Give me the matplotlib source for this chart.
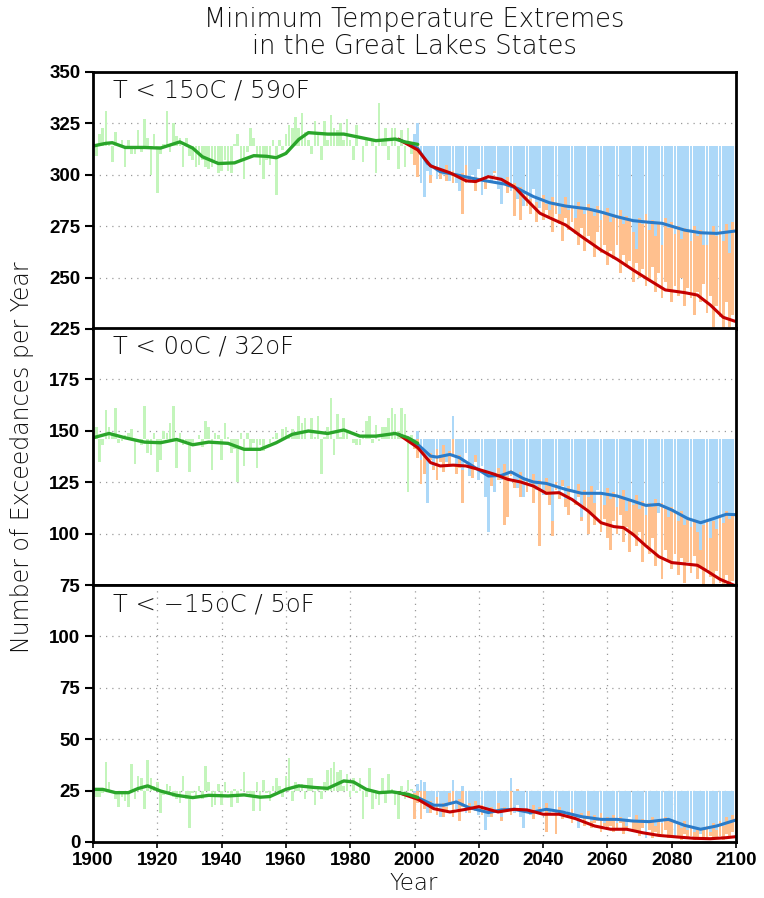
import matplotlib

matplotlib.use("Agg")
import matplotlib.pyplot as plt
import numpy as np

# ---- data ----
hist_years = list(range(1900, 2000))
future_years = list(range(2000, 2101))

panel_labels = ["T < 15oC / 59oF", "T < 0oC / 32oF", "T < \u221215oC / 5oF"]
baselines = [314, 146, 25]
ylims = [(225, 350), (75, 200), (0, 125)]
ytick_values = [[225, 250, 275, 300, 325, 350], [75, 100, 125, 150, 175], [0, 25, 50, 75, 100]]

p1_hist = [296, 309, 320, 323, 331, 316, 306, 321, 315, 317,
           304, 317, 310, 310, 322, 311, 327, 318, 300, 320,
           291, 310, 315, 331, 311, 325, 319, 318, 304, 318,
           309, 307, 304, 305, 307, 304, 303, 304, 307, 301,
           302, 307, 302, 301, 315, 320, 307, 298, 311, 323,
           318, 309, 305, 298, 307, 305, 317, 290, 317, 312,
           320, 324, 323, 328, 323, 330, 321, 317, 310, 326,
           321, 307, 326, 317, 329, 323, 322, 325, 317, 327,
           317, 307, 324, 314, 306, 317, 314, 317, 301, 335,
           317, 323, 307, 323, 323, 303, 322, 304, 323, 310]
p1_low = [320, 325, 296, 289, 302, 300, 304, 298, 303, 300,
          305, 297, 302, 296, 292, 301, 305, 296, 300, 299,
          303, 290, 298, 300, 296, 302, 293, 286, 297, 299,
          292, 296, 288, 294, 285, 291, 288, 293, 287, 284,
          290, 286, 283, 289, 287, 281, 286, 289, 283, 285,
          279, 287, 284, 281, 286, 283, 280, 285, 278, 282,
          284, 277, 281, 279, 283, 276, 280, 278, 272, 264,
          279, 276, 281, 273, 278, 270, 277, 266, 279, 274,
          277, 271, 275, 269, 274, 272, 268, 275, 270, 273,
          266, 266, 272, 275, 270, 273, 268, 276, 262, 277, 272]
p1_high = [305, 299, 298, 300, 303, 296, 305, 301, 298, 304,
           297, 302, 296, 309, 300, 281, 296, 300, 303, 292,
           304, 298, 293, 305, 297, 301, 294, 299, 303, 291,
           296, 280, 293, 278, 288, 285, 281, 293, 277, 285,
           278, 283, 280, 272, 281, 276, 268, 279, 273, 277,
           271, 266, 274, 263, 270, 267, 260, 272, 262, 266,
           256, 263, 259, 266, 252, 261, 255, 258, 248, 257,
           250, 254, 246, 249, 255, 243, 252, 240, 248, 244,
           238, 246, 241, 250, 236, 245, 240, 232, 243, 238,
           247, 233, 241, 226, 236, 231, 224, 238, 226, 232, 222]

p2_hist = [147, 152, 135, 143, 160, 152, 149, 161, 144, 145,
           148, 149, 151, 134, 146, 143, 162, 139, 138, 149,
           130, 136, 150, 149, 154, 162, 132, 149, 143, 145,
           130, 143, 146, 148, 142, 155, 152, 131, 149, 148,
           136, 154, 147, 139, 141, 125, 149, 133, 149, 141,
           144, 132, 143, 140, 146, 144, 147, 149, 146, 151,
           152, 148, 151, 149, 157, 154, 156, 146, 156, 147,
           157, 129, 147, 152, 166, 138, 158, 147, 156, 149,
           146, 144, 143, 143, 147, 155, 157, 144, 153, 145,
           152, 152, 156, 161, 158, 150, 161, 158, 120, 148]
p2_low = [142, 150, 136, 140, 115, 139, 133, 141, 137, 143,
          135, 140, 157, 133, 138, 131, 139, 128, 134, 138,
          126, 133, 118, 101, 129, 120, 132, 126, 134, 128,
          131, 125, 122, 130, 118, 127, 124, 129, 121, 126,
          119, 127, 123, 106, 125, 120, 126, 117, 123, 121,
          116, 124, 108, 121, 118, 123, 115, 121, 119, 114,
          122, 117, 120, 113, 118, 121, 111, 117, 114, 119,
          112, 116, 109, 115, 113, 117, 110, 115, 112, 108,
          113, 110, 106, 111, 104, 108, 103, 107, 101, 92,
          104, 107, 98, 106, 102, 109, 105, 111, 107, 110, 106]
p2_high = [141, 137, 124, 129, 123, 136, 131, 126, 135, 130,
           143, 134, 138, 129, 132, 115, 140, 131, 127, 135,
           128, 133, 125, 137, 123, 130, 126, 134, 104, 108,
           128, 122, 126, 118, 124, 120, 129, 115, 122, 94,
           126, 119, 114, 99, 121, 117, 123, 113, 109, 127,
           114, 118, 106, 112, 100, 110, 104, 122, 101, 107,
           98, 92, 106, 100, 109, 96, 103, 91, 99, 94,
           101, 86, 95, 90, 98, 84, 120, 78, 92, 87,
           83, 90, 80, 88, 76, 86, 81, 89, 78, 84,
           75, 83, 79, 74, 82, 76, 72, 80, 73, 77, 70]

p3_hist = [27, 22, 22, 24, 39, 29, 24, 21, 17, 22,
           20, 17, 38, 21, 32, 31, 16, 40, 31, 27,
           29, 14, 23, 28, 27, 22, 21, 19, 32, 21,
           7, 24, 22, 27, 21, 37, 29, 17, 18, 28,
           18, 29, 24, 17, 26, 19, 26, 34, 24, 22,
           15, 29, 15, 30, 24, 20, 27, 31, 27, 22,
           32, 41, 20, 29, 27, 28, 21, 31, 31, 18,
           27, 21, 29, 35, 36, 39, 34, 35, 27, 33,
           22, 31, 24, 31, 11, 22, 36, 16, 21, 18,
           31, 19, 33, 26, 18, 11, 27, 21, 30, 26]
p3_low = [24, 28, 30, 29, 14, 20, 16, 22, 12, 19,
          17, 24, 30, 16, 21, 27, 14, 19, 16, 20,
          13, 18, 6, 12, 17, 14, 19, 12, 17, 15,
          31, 14, 18, 12, 7, 16, 13, 18, 14, 17,
          15, 19, 13, 16, 14, 17, 12, 15, 13, 16,
          11, 7, 14, 12, 15, 10, 13, 11, 14, 9,
          12, 10, 13, 9, 12, 11, 8, 12, 10, 13,
          9, 11, 2, 10, 12, 8, 11, 9, 12, 10,
          11, 3, 9, 7, 10, 6, 8, 5, 7, 4,
          6, 8, 5, 9, 6, 10, 8, 12, 9, 13, 10]
p3_high = [11, 19, 11, 16, 20, 14, 18, 13, 17, 12,
           15, 18, 12, 16, 10, 17, 21, 14, 19, 15,
           18, 13, 20, 16, 12, 17, 14, 10, 16, 19,
           13, 17, 26, 14, 12, 18, 15, 11, 17, 14,
           22, 5, 13, 16, 4, 14, 11, 16, 12, 9,
           13, 10, 12, 8, 11, 7, 9, 10, 5, 8,
           6, 8, 5, 7, 9, 4, 7, 16, 5, 6,
           3, 7, 4, 6, 2, 5, 3, 4, 6, 2,
           3, 5, 2, 1, 4, 2, 3, 1, 2, 4,
           1, 2, 3, 1, 2, 3, 1, 4, 2, 5, 3]

# smoothed curves (read at irregular years)
p1_hist_smooth_years = [1900, 1904, 1906, 1910, 1916, 1921, 1924, 1927, 1931, 1934, 1939, 1944, 1950,
                        1954, 1957, 1960, 1964, 1967, 1973, 1978, 1983, 1988, 1994, 1997, 2001]
p1_hist_smooth = [314, 315.3, 315.6, 313.3, 313.3, 313, 314.5, 316, 313, 308.8, 305.5, 305.8, 309.3,
                  309, 308.3, 310.4, 317.2, 320.5, 319.8, 319.8, 318.2, 316.6, 317.4, 316, 314.8]
p1_low_smooth_years = [1995, 2001, 2004, 2008, 2013, 2018, 2022, 2028, 2032, 2037, 2042, 2047, 2054,
                       2058, 2063, 2068, 2073, 2077, 2084, 2089, 2094, 2100]
p1_low_smooth = [317.3, 312.9, 305.6, 301.5, 300, 298.3, 297.1, 295.5, 293.4, 289.4, 286.4, 284.8, 283.4,
                 281.9, 279.6, 277.7, 276.9, 276.4, 273.1, 271.8, 271.5, 272.7]
p1_high_smooth_years = [1995, 2001, 2005, 2011, 2016, 2019, 2023, 2027, 2031, 2035, 2039, 2043, 2047,
                        2052, 2058, 2063, 2068, 2073, 2078, 2084, 2088, 2092, 2096, 2100]
p1_high_smooth = [317.3, 312.1, 304.3, 301, 297.1, 296.7, 299.1, 297.8, 294.2, 287.7, 281.3, 278.4, 275.6,
                  269.9, 263.4, 258.9, 253.7, 248.8, 244, 242.7, 241.5, 236.7, 230.7, 228.6]

p2_hist_smooth_years = [1900, 1905, 1910, 1916, 1921, 1926, 1931, 1936, 1942, 1947, 1952, 1957, 1962,
                        1967, 1973, 1978, 1983, 1988, 1994, 1998, 2001]
p2_hist_smooth = [146.6, 148.7, 146.6, 144.5, 144.2, 145.8, 143.2, 144.5, 143.9, 141, 141, 144.2, 148.3,
                  149.9, 148.7, 150.4, 147.4, 147.4, 148.7, 146.6, 143.9]
p2_low_smooth_years = [1995, 2001, 2005, 2007, 2011, 2014, 2018, 2023, 2027, 2030, 2034, 2037, 2041,
                       2047, 2052, 2058, 2063, 2068, 2072, 2076, 2080, 2085, 2089, 2093, 2097, 2100]
p2_low_smooth = [148.3, 143.4, 137.7, 137.2, 138.5, 136.9, 132.9, 128, 128.3, 130, 126.7, 125.1, 124.4,
                 121.5, 119.6, 119.6, 118.3, 115.8, 113.7, 114.2, 111.5, 107.3, 105.3, 107.3, 109.4, 109.2]
p2_high_smooth_years = [1995, 2001, 2005, 2008, 2012, 2016, 2020, 2025, 2029, 2033, 2037, 2041, 2045,
                        2049, 2054, 2058, 2062, 2065, 2068, 2072, 2076, 2080, 2085, 2088, 2091, 2095, 2100]
p2_high_smooth = [148.3, 141.8, 134.5, 132.9, 133.3, 132.9, 131.2, 128.8, 126.4, 125.1, 123.1, 119.6, 119.9,
                  116.6, 111, 105.3, 103.4, 102.9, 99.6, 94, 88.8, 85.9, 85.1, 84.6, 81.8, 77.8, 74.5]

p3_hist_smooth_years = [1900, 1903, 1907, 1911, 1914, 1917, 1921, 1926, 1931, 1936, 1942, 1947, 1952,
                        1955, 1960, 1964, 1969, 1973, 1978, 1981, 1985, 1989, 1993, 1998, 2001]
p3_hist_smooth = [25.6, 25.6, 24, 24, 26, 27.3, 24.8, 22.7, 21.6, 22.7, 22.4, 22.9, 21.8,
                  22.1, 25.6, 27.3, 26.5, 26.1, 29.7, 29.2, 25.6, 24, 24.4, 23.2, 21.6]
p3_low_smooth_years = [1995, 2001, 2006, 2009, 2013, 2017, 2023, 2027, 2031, 2036, 2041, 2046, 2052,
                       2058, 2063, 2068, 2073, 2079, 2084, 2089, 2094, 2100]
p3_low_smooth = [24, 21.6, 17.9, 17.9, 19.5, 16.7, 14.3, 15.6, 15.9, 14.3, 15.9, 14.6, 12.3,
                 11, 11, 10.2, 9.9, 11, 8.1, 6.2, 7.8, 10.7]
p3_high_smooth_years = [1995, 2001, 2006, 2011, 2016, 2020, 2026, 2031, 2035, 2040, 2045, 2050, 2056,
                        2061, 2066, 2071, 2076, 2082, 2087, 2092, 2097, 2100]
p3_high_smooth = [24, 20.8, 16.2, 14.6, 15.9, 17.2, 14.6, 15.9, 15.6, 13.5, 13.5, 11.4, 7.8,
                  6.2, 6.2, 4.5, 3.2, 2.4, 1.8, 1.6, 2.1, 2.6]

HIST_BAR = "#c3f5bb"
LOW_BAR = "#acd8f8"
HIGH_BAR = "#ffc08e"
HIST_LINE = "#2aa52a"
LOW_LINE = "#2b7bc8"
HIGH_LINE = "#c40000"

TICK_FONT = dict(family="Liberation Sans", weight="bold", size=13.5)
THIN_FONT = dict(family="DejaVu Sans", weight="light", color="#111111")


def draw_panel(ax, idx, hist, low, high, smooths, show_vgrid):
    base = baselines[idx]
    hist = np.asarray(hist, dtype=float)
    low = np.asarray(low, dtype=float)
    high = np.asarray(high, dtype=float)
    ax.bar(hist_years, hist - base, bottom=base, width=0.8, color=HIST_BAR, lw=0, zorder=1)
    ax.bar(future_years, high - base, bottom=base, width=0.88, color=HIGH_BAR, lw=0, zorder=1)
    ax.bar(future_years, low - base, bottom=base, width=0.88, color=LOW_BAR, lw=0, zorder=1.1)

    (hy, hv), (ly, lv), (ry, rv) = smooths
    ax.plot(ly, lv, color=LOW_LINE, lw=2.2, zorder=3, solid_capstyle="round")
    ax.plot(ry, rv, color=HIGH_LINE, lw=2.2, zorder=3.1, solid_capstyle="round")
    ax.plot(hy, hv, color=HIST_LINE, lw=2.4, zorder=3.2, solid_capstyle="round")

    lo, hi = ylims[idx]
    ax.set_xlim(1900, 2100)
    ax.set_ylim(lo, hi)
    ax.set_yticks(ytick_values[idx])
    ax.set_yticklabels([str(v) for v in ytick_values[idx]], fontdict=TICK_FONT)
    for v in ytick_values[idx]:
        if lo < v < hi:
            ax.axhline(v, color="#9a9a9a", lw=0.9, ls=(0, (1, 4)), zorder=0.5)
    if show_vgrid:
        for yr in range(1920, 2100, 20):
            ax.axvline(yr, color="#9a9a9a", lw=0.9, ls=(0, (1, 4)), zorder=0.5)
    ax.set_xticks(range(1900, 2101, 20))
    ax.tick_params(axis="y", direction="out", length=6, width=1.5, pad=3)
    ax.tick_params(axis="x", direction="out", length=4, width=1.2)
    for spine in ax.spines.values():
        spine.set_linewidth(2.0)
        spine.set_zorder(5)
    ax.text(20 / 643, 1 - 19 / 257, panel_labels[idx], transform=ax.transAxes,
            ha="left", va="center", fontsize=17.5, zorder=6, **THIN_FONT)


def main() -> None:
    fig = plt.figure(figsize=(7.64, 8.98), dpi=100)
    left = 93 / 764
    width = (736 - 93) / 764
    height = 257 / 898
    bottoms = [1 - 329 / 898, 1 - 585 / 898, 1 - 842 / 898]

    data = [
        (p1_hist, p1_low, p1_high,
         [(p1_hist_smooth_years, p1_hist_smooth), (p1_low_smooth_years, p1_low_smooth),
          (p1_high_smooth_years, p1_high_smooth)]),
        (p2_hist, p2_low, p2_high,
         [(p2_hist_smooth_years, p2_hist_smooth), (p2_low_smooth_years, p2_low_smooth),
          (p2_high_smooth_years, p2_high_smooth)]),
        (p3_hist, p3_low, p3_high,
         [(p3_hist_smooth_years, p3_hist_smooth), (p3_low_smooth_years, p3_low_smooth),
          (p3_high_smooth_years, p3_high_smooth)]),
    ]
    for idx, (hist, low, high, smooths) in enumerate(data):
        ax = fig.add_axes([left, bottoms[idx], width, height])
        draw_panel(ax, idx, hist, low, high, smooths, show_vgrid=(idx == 2))
        if idx < 2:
            ax.tick_params(axis="x", labelbottom=False, length=0)
        else:
            ax.set_xticklabels([str(y) for y in range(1900, 2101, 20)], fontdict=TICK_FONT)

    fig.text(414 / 764, 1 - 32.5 / 898, "Minimum Temperature Extremes\nin the Great Lakes States",
             ha="center", va="center", fontsize=18.5, linespacing=1.1, **THIN_FONT)
    fig.text(22 / 764, 1 - 457 / 898, "Number of Exceedances per Year", rotation=90,
             ha="center", va="center", fontsize=17, **THIN_FONT)
    fig.text(414 / 764, 1 - 883 / 898, "Year", ha="center", va="center", fontsize=16.5, **THIN_FONT)

    fig.savefig("out.png", dpi=100)
    plt.close(fig)


if __name__ == "__main__":
    main()
